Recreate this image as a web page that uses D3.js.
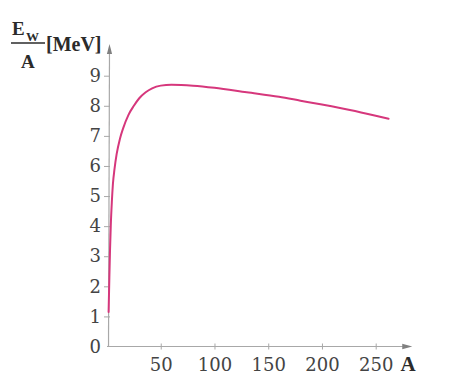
<!DOCTYPE html>
<html>
<head>
<meta charset="utf-8">
<script src="https://cdn.jsdelivr.net/npm/d3@7"></script>
<style>
  body { margin: 0; background: #fff; }
  .tick text { font-family: "DejaVu Serif", serif; font-size: 18px; fill: #444; }
  .axis path, .axis line { stroke: #a8a8a8; }
  .lbl { font-family: "Liberation Serif", serif; font-weight: bold; fill: #2b2b2b; }
</style>
</head>
<body>
<div id="chart"></div>
<script>
// mass number A and binding energy per nucleon E_W/A [MeV]
const massNumbers = [1.5, 2.2, 2.8, 3.5, 4.5, 5.5, 7, 9, 12, 15, 20, 25, 30, 36, 42, 50, 60, 80, 100, 130, 160, 180, 200, 226, 250, 262];
const energyPerNucleon = [1.15, 2.3, 3.2, 4.0, 4.8, 5.4, 5.9, 6.4, 6.9, 7.25, 7.7, 8.0, 8.25, 8.45, 8.58, 8.67, 8.7, 8.67, 8.6, 8.45, 8.3, 8.17, 8.04, 7.86, 7.67, 7.57];
const xTicks = [50, 100, 150, 200, 250];
const yTicks = [0, 1, 2, 3, 4, 5, 6, 7, 8, 9];

const width = 460;
const height = 376;

const svg = d3.select('#chart')
    .append('svg')
    .attr('width', width)
    .attr('height', height);

const xScale = d3.scaleLinear().domain([0, 250]).range([107, 375.7]);
const yScale = d3.scaleLinear().domain([0, 9]).range([346.5, 75.7]);

const x0 = xScale(0);
const y0 = yScale(0);

// x axis
const xAxis = svg.append('g')
    .attr('class', 'axis x-axis')
    .attr('transform', 'translate(0,' + y0 + ')')
    .call(d3.axisBottom(xScale).tickValues(xTicks).tickSize(3).tickPadding(9));
xAxis.select('.domain').remove();
xAxis.selectAll('.tick line').attr('y1', -3).attr('y2', 3);

// y axis
const yAxis = svg.append('g')
    .attr('class', 'axis y-axis')
    .attr('transform', 'translate(' + x0 + ',0)')
    .call(d3.axisLeft(yScale).tickValues(yTicks).tickSize(3).tickPadding(3));
yAxis.select('.domain').remove();
yAxis.selectAll('.tick line').attr('x1', 3).attr('x2', -3);
yAxis.selectAll('.tick').filter(d => d === 0).select('line').remove();

// axis lines with arrows
const xEnd = xScale(284);
const yEnd = yScale(10.05);
svg.append('line')
    .attr('x1', x0).attr('y1', y0).attr('x2', xEnd - 6).attr('y2', y0)
    .attr('stroke', '#a8a8a8').attr('stroke-width', 1.2);
svg.append('line')
    .attr('x1', x0 + 1.5).attr('y1', y0).attr('x2', x0 + 2.5).attr('y2', yEnd + 6)
    .attr('stroke', '#a8a8a8').attr('stroke-width', 1.2);
svg.append('path')
    .attr('d', 'M' + xEnd + ',' + y0 + 'l-10,-2.8l0,5.6z')
    .attr('fill', '#808080');
svg.append('path')
    .attr('d', 'M' + (x0 + 2.5) + ',' + yEnd + 'l-2.6,10l5.2,0z')
    .attr('fill', '#808080');

// curve
const points = massNumbers.map((a, i) => [a, energyPerNucleon[i]]);
svg.append('path')
    .datum(points)
    .attr('fill', 'none')
    .attr('stroke', '#d6377c')
    .attr('stroke-width', 2)
    .attr('stroke-linecap', 'round')
    .attr('d', d3.line()
        .x(d => xScale(d[0]))
        .y(d => yScale(d[1]))
        .curve(d3.curveMonotoneX));

// axis labels
svg.append('text')
    .attr('class', 'lbl')
    .attr('x', 400.5)
    .attr('y', 371)
    .attr('font-size', 21)
    .text('A');

svg.append('text').attr('class', 'lbl').attr('x', 12).attr('y', 35).attr('font-size', 19).text('E');
svg.append('text').attr('class', 'lbl').attr('x', 26).attr('y', 41).attr('font-size', 13).text('W');
svg.append('line')
    .attr('x1', 11).attr('x2', 45).attr('y1', 43).attr('y2', 43)
    .attr('stroke', '#2b2b2b').attr('stroke-width', 1.3);
svg.append('text').attr('class', 'lbl').attr('x', 21).attr('y', 68).attr('font-size', 19).text('A');
svg.append('text').attr('class', 'lbl').attr('x', 46).attr('y', 51).attr('font-size', 20).text('[MeV]');
</script>
</body>
</html>
